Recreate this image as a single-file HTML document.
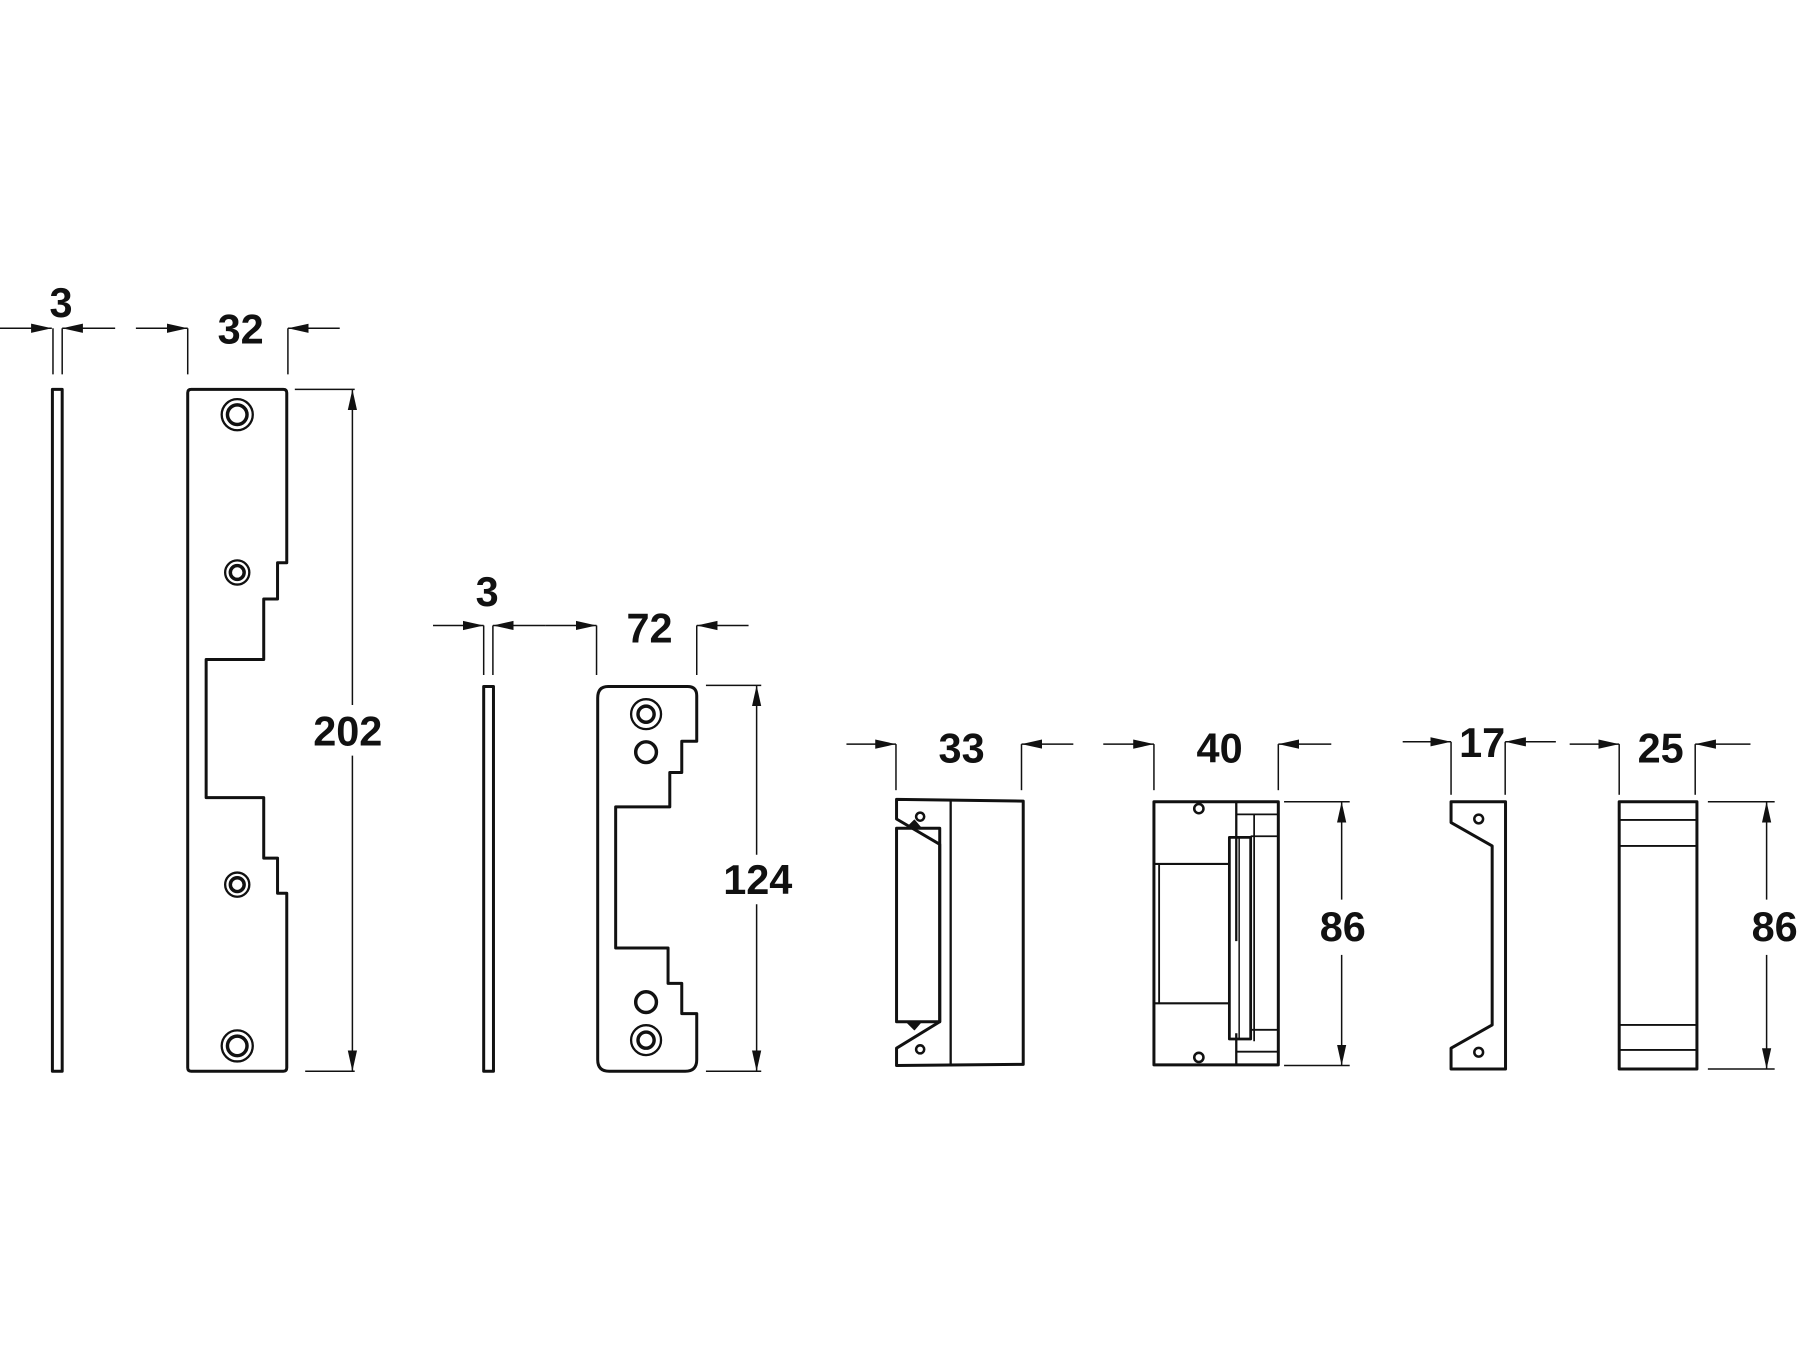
<!DOCTYPE html>
<html><head><meta charset="utf-8"><style>html,body{margin:0;padding:0;background:#fff}svg{display:block}</style></head>
<body>
<svg width="1800" height="1350" viewBox="0 0 1563 1172" preserveAspectRatio="none" xmlns="http://www.w3.org/2000/svg">
<defs>
<marker id="a" markerUnits="userSpaceOnUse" markerWidth="20" markerHeight="10" refX="18" refY="5" orient="auto"><path d="M0,1 L18,5 L0,9 Z" fill="#111"/></marker>
</defs>
<g fill="none" stroke="#111" stroke-width="1.3">
<line x1="0" y1="285" x2="45" y2="285" marker-end="url(#a)"/>
<line x1="100" y1="285" x2="54" y2="285" marker-end="url(#a)"/>
<line x1="46" y1="285" x2="46" y2="325"/><line x1="54" y1="285" x2="54" y2="325"/>
<line x1="118" y1="285" x2="163" y2="285" marker-end="url(#a)"/>
<line x1="295" y1="285" x2="250" y2="285" marker-end="url(#a)"/>
<line x1="163" y1="285" x2="163" y2="325"/><line x1="250" y1="285" x2="250" y2="325"/>
<line x1="256" y1="338" x2="308" y2="338"/><line x1="265" y1="930" x2="308" y2="930"/>
<line x1="306" y1="612" x2="306" y2="338" marker-end="url(#a)"/>
<line x1="306" y1="656" x2="306" y2="930" marker-end="url(#a)"/>
<line x1="376" y1="543" x2="420" y2="543" marker-end="url(#a)"/>
<line x1="474" y1="543" x2="428" y2="543" marker-end="url(#a)"/>
<line x1="474" y1="543" x2="518" y2="543" marker-end="url(#a)"/>
<line x1="420" y1="543" x2="420" y2="586"/><line x1="428" y1="543" x2="428" y2="586"/>
<line x1="518" y1="543" x2="518" y2="586"/><line x1="605" y1="543" x2="605" y2="586"/>
<line x1="650" y1="543" x2="605" y2="543" marker-end="url(#a)"/>
<line x1="613" y1="595" x2="661" y2="595"/><line x1="613" y1="930" x2="661" y2="930"/>
<line x1="657" y1="742" x2="657" y2="595" marker-end="url(#a)"/>
<line x1="657" y1="785" x2="657" y2="930" marker-end="url(#a)"/>
<line x1="735" y1="646" x2="778" y2="646" marker-end="url(#a)"/>
<line x1="932" y1="646" x2="887" y2="646" marker-end="url(#a)"/>
<line x1="778" y1="646" x2="778" y2="686"/><line x1="887" y1="646" x2="887" y2="686"/>
<line x1="958" y1="646" x2="1002" y2="646" marker-end="url(#a)"/>
<line x1="1156" y1="646" x2="1110" y2="646" marker-end="url(#a)"/>
<line x1="1002" y1="646" x2="1002" y2="686"/><line x1="1110" y1="646" x2="1110" y2="686"/>
<line x1="1115" y1="696" x2="1172" y2="696"/><line x1="1115" y1="925" x2="1172" y2="925"/>
<line x1="1165" y1="781" x2="1165" y2="696" marker-end="url(#a)"/>
<line x1="1165" y1="829" x2="1165" y2="925" marker-end="url(#a)"/>
<line x1="1218" y1="644" x2="1260" y2="644" marker-end="url(#a)"/>
<line x1="1351" y1="644" x2="1307" y2="644" marker-end="url(#a)"/>
<line x1="1260" y1="644" x2="1260" y2="690"/><line x1="1307" y1="644" x2="1307" y2="690"/>
<line x1="1363" y1="646" x2="1406" y2="646" marker-end="url(#a)"/>
<line x1="1520" y1="646" x2="1472" y2="646" marker-end="url(#a)"/>
<line x1="1406" y1="646" x2="1406" y2="690"/><line x1="1472" y1="646" x2="1472" y2="690"/>
<line x1="1483" y1="696" x2="1541" y2="696"/><line x1="1483" y1="928" x2="1541" y2="928"/>
<line x1="1534" y1="781" x2="1534" y2="696" marker-end="url(#a)"/>
<line x1="1534" y1="829" x2="1534" y2="928" marker-end="url(#a)"/>
</g>

<g fill="none" stroke="#111" stroke-width="2.6" stroke-linejoin="round">
<rect x="45.5" y="338" width="8.5" height="592"/>
<path d="M163,341 Q163,338 166,338 L246,338 Q249,338 249,341 L249,488.5 L241,488.5 L241,520 L229,520 L229,572.5 L179,572.5 L179,692.5 L229,692.5 L229,745 L241,745 L241,775.5 L249,775.5 L249,927 Q249,930 246,930 L166,930 Q163,930 163,927 Z"/>
<circle cx="206" cy="360" r="13.5" stroke-width="2"/><circle cx="206" cy="360" r="8.5" stroke-width="3"/>
<circle cx="206" cy="497" r="10.5" stroke-width="2"/><circle cx="206" cy="497" r="6" stroke-width="3"/>
<circle cx="206" cy="768" r="10.5" stroke-width="2"/><circle cx="206" cy="768" r="6" stroke-width="3"/>
<circle cx="206" cy="908" r="13.5" stroke-width="2"/><circle cx="206" cy="908" r="8.5" stroke-width="3"/>
<rect x="420" y="596" width="8.5" height="334"/>
<path d="M528,596 L597,596 Q605,596 605,604 L605,643.5 L592,643.5 L592,670.6 L581.6,670.6 L581.6,700.5 L534.6,700.5 L534.6,823 L580.1,823 L580.1,853.7 L592,853.7 L592,880 L605,880 L605,920 Q605,930 595,930 L529,930 Q519,930 519,920 L519,606 Q519,596 528,596 Z"/>
<circle cx="561" cy="620" r="13" stroke-width="2"/><circle cx="561" cy="620" r="7" stroke-width="3"/>
<circle cx="561" cy="653" r="9" stroke-width="3"/>
<circle cx="561" cy="870" r="9" stroke-width="3"/>
<circle cx="561" cy="903" r="13" stroke-width="2"/><circle cx="561" cy="903" r="7" stroke-width="3"/>
<path d="M778.5,694 L888.5,695.5 L888.5,924 L778.5,925 L778.5,910 L816,887 L816,733 L778.5,711 Z"/>
<rect x="778.5" y="719" width="37.5" height="168"/>
<line x1="825.5" y1="694.5" x2="825.5" y2="924.5" stroke-width="2"/>
<circle cx="799" cy="709" r="3.5" stroke-width="2.2"/><circle cx="799" cy="911" r="3.5" stroke-width="2.2"/>
<path d="M787,719 L794,712 L800,719 Z M787,887 L794,894 L800,887 Z" fill="#111" stroke-width="1"/>
<rect x="1002" y="696" width="108" height="228.5"/>
<line x1="1073.5" y1="696" x2="1073.5" y2="817" stroke-width="2"/>
<line x1="1073.5" y1="897" x2="1073.5" y2="924" stroke-width="2"/>
<rect x="1067.5" y="727" width="18.5" height="175" stroke-width="2.4"/>
<line x1="1002" y1="750" x2="1067.5" y2="750" stroke-width="1.8"/>
<line x1="1002" y1="871" x2="1067.5" y2="871" stroke-width="1.8"/>
<line x1="1006.5" y1="750" x2="1006.5" y2="871" stroke-width="1.6"/>
<line x1="1089" y1="707" x2="1089" y2="904" stroke-width="1.5"/>
<line x1="1073.5" y1="707" x2="1110" y2="707" stroke-width="1.6"/>
<line x1="1086" y1="726" x2="1110" y2="726" stroke-width="1.6"/>
<line x1="1086" y1="894" x2="1110" y2="894" stroke-width="1.6"/>
<line x1="1073.5" y1="913" x2="1110" y2="913" stroke-width="1.6"/>
<line x1="1076" y1="727" x2="1076" y2="902" stroke-width="1.3"/>
<circle cx="1041" cy="702" r="4" stroke-width="2.2"/><circle cx="1041" cy="918" r="4" stroke-width="2.2"/>
<path d="M1260,696 L1307.3,696 L1307.3,928 L1260,928 L1260,910 L1295.7,889.8 L1295.7,734.4 L1260,714.1 Z"/>
<circle cx="1284" cy="711" r="3.8" stroke-width="2.2"/><circle cx="1284" cy="913.5" r="3.8" stroke-width="2.2"/>
<rect x="1406" y="696" width="67.5" height="232"/>
<line x1="1406" y1="711.8" x2="1473.5" y2="711.8" stroke-width="1.6"/>
<line x1="1406" y1="734.4" x2="1473.5" y2="734.4" stroke-width="1.6"/>
<line x1="1406" y1="889.8" x2="1473.5" y2="889.8" stroke-width="1.6"/>
<line x1="1406" y1="911.5" x2="1473.5" y2="911.5" stroke-width="1.6"/>
</g>

<g font-family="Liberation Sans, Arial, sans-serif" font-weight="bold" font-size="36" fill="#111" text-anchor="middle">
<text x="53" y="275">3</text>
<text x="209" y="298">32</text>
<text x="302" y="647">202</text>
<text x="423" y="526">3</text>
<text x="564" y="558">72</text>
<text x="658" y="776">124</text>
<text x="835" y="662">33</text>
<text x="1059" y="662">40</text>
<text x="1166" y="817">86</text>
<text x="1287" y="657">17</text>
<text x="1442" y="662">25</text>
<text x="1541" y="817">86</text>
</g>
</svg>
</body></html>
